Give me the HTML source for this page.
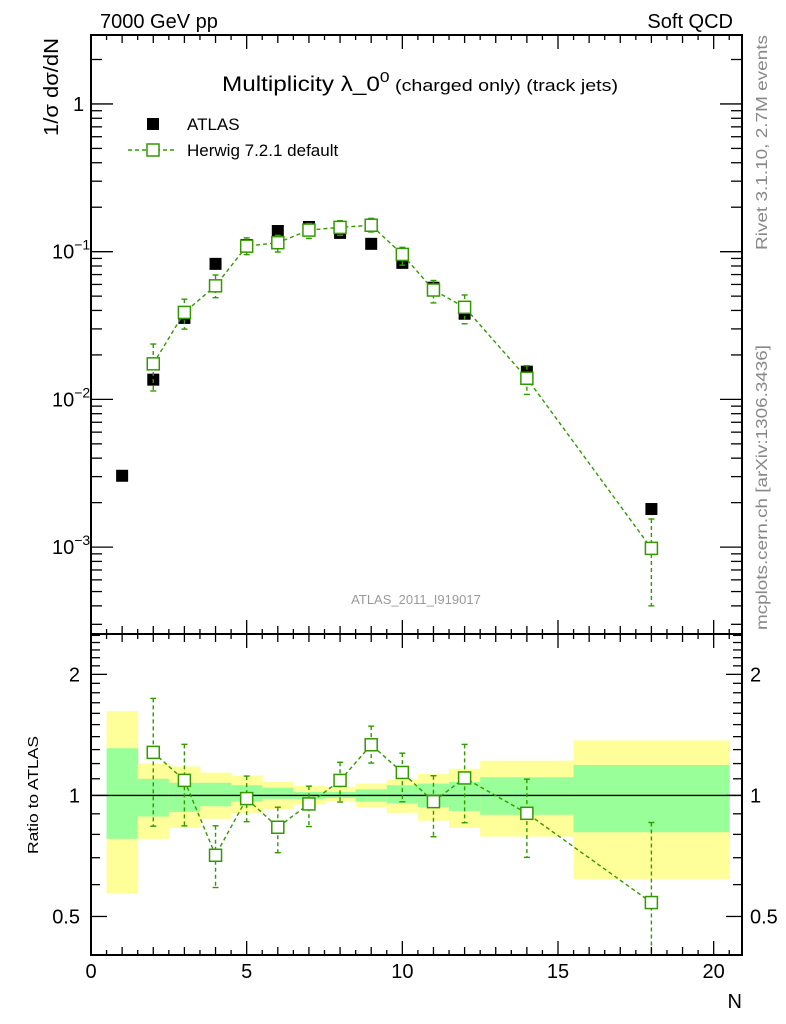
<!DOCTYPE html>
<html><head><meta charset="utf-8"><style>
html,body{margin:0;padding:0;background:#fff;}
svg{display:block;font-family:"Liberation Sans","DejaVu Sans",sans-serif;}
</style></head><body>
<svg id="chart" width="786" height="1024" viewBox="0 0 786 1024" xmlns="http://www.w3.org/2000/svg">
<g id="bands"></g>
<g id="marks"></g>
<g id="axes"></g>
<text x="100" y="28" font-size="20">7000 GeV pp</text>
<text x="733" y="28" font-size="20" text-anchor="end">Soft QCD</text>
<text x="222" y="91" font-size="21" textLength="396" lengthAdjust="spacingAndGlyphs">Multiplicity λ_0<tspan font-size="15" dy="-9">0</tspan><tspan font-size="17" dy="9"> (charged only) (track jets)</tspan></text>
<text transform="translate(58,136) rotate(-90)" font-size="20" textLength="98" lengthAdjust="spacingAndGlyphs">1/σ dσ/dN</text>
<text transform="translate(38,795) rotate(-90)" font-size="15" text-anchor="middle" textLength="118" lengthAdjust="spacingAndGlyphs">Ratio to ATLAS</text>
<text x="742" y="1008" font-size="20" text-anchor="end">N</text>
<text x="416" y="604" font-size="13" fill="#999" text-anchor="middle">ATLAS_2011_I919017</text>
<text transform="translate(767,250) rotate(-90)" font-size="16" fill="#888" textLength="215" lengthAdjust="spacingAndGlyphs">Rivet 3.1.10,  2.7M events</text>
<text transform="translate(767,630) rotate(-90)" font-size="16" fill="#888" textLength="285" lengthAdjust="spacingAndGlyphs">mcplots.cern.ch [arXiv:1306.3436]</text>
<g>
<rect x="147" y="118" width="12" height="12" fill="#000"/>
<text x="187" y="130" font-size="17">ATLAS</text>
<line x1="128" y1="150" x2="177" y2="150" stroke="#339900" stroke-width="1.5" stroke-dasharray="4,3"/>
<rect x="147" y="144" width="12" height="12" fill="#fff" stroke="#339900" stroke-width="1.5"/>
<text x="187" y="156" font-size="17">Herwig 7.2.1 default</text>
</g>
</svg>
<script>
const atlasN=[1,2,3,4,5,6,7,8,9,10,11,12,14,18];
const atlasVal=[0.00304,0.0136,0.0356,0.0827,0.111,0.138,0.147,0.134,0.113,0.084,0.057,0.038,0.0154,0.00181];
const herwigN=[2,3,4,5,6,7,8,9,10,11,12,14,18];
const herwigVal=[0.0174,0.0388,0.0587,0.109,0.115,0.140,0.146,0.151,0.0958,0.055,0.042,0.0139,0.00098];
const herwigUp=[0.0237,0.0477,0.0695,0.124,0.129,0.155,0.162,0.168,0.107,0.0638,0.0509,0.0169,0.00155];
const herwigDn=[0.0114,0.0299,0.0488,0.0955,0.0994,0.123,0.129,0.136,0.081,0.045,0.0325,0.0108,0.0004];
const bandEdges=[0.5,1.5,2.5,3.5,4.5,5.5,6.5,7.5,8.5,9.5,10.5,11.5,12.5,15.5,20.5];
const bandOuterUp=[1.62,1.2,1.18,1.14,1.12,1.08,1.056,1.05,1.07,1.095,1.13,1.165,1.22,1.37];
const bandInnerUp=[1.31,1.1,1.075,1.075,1.06,1.045,1.02,1.02,1.035,1.06,1.07,1.08,1.11,1.19];
const bandInnerDn=[0.78,0.886,0.91,0.94,0.965,0.98,0.98,0.985,0.965,0.955,0.935,0.915,0.895,0.81];
const bandOuterDn=[0.57,0.78,0.83,0.875,0.905,0.925,0.95,0.965,0.935,0.905,0.865,0.83,0.79,0.62];
const xTicks=[0,5,10,15,20];
const mainTicks=[1,0.1,0.01,0.001];
const mainTickLabels=[["1",""],["10","−1"],["10","−2"],["10","−3"]];
const ratioTicks=[2,1,0.5];
const ratioTickLabels=["2","1","0.5"];

const NS="http://www.w3.org/2000/svg";
const L=91,R=742,T=35,M=634,B=955;
const XMIN=0,XMAX=20.91;
const YMAXL=Math.log10(2.93),YMINL=Math.log10(2.58e-4);
const RMAXL=Math.log10(2.52),RMINL=Math.log10(0.401);
const sx=v=>L+(v-XMIN)/(XMAX-XMIN)*(R-L);
const sy=v=>T+(YMAXL-Math.log10(v))/(YMAXL-YMINL)*(M-T);
const sr=v=>M+(RMAXL-Math.log10(v))/(RMAXL-RMINL)*(B-M);
function el(parent,tag,attrs){const e=document.createElementNS(NS,tag);for(const k in attrs)e.setAttribute(k,attrs[k]);parent.appendChild(e);return e;}
const bands=document.getElementById('bands'),marks=document.getElementById('marks'),axes=document.getElementById('axes');

for(let i=0;i<bandOuterUp.length;i++){
  const x0=sx(bandEdges[i]),x1=sx(bandEdges[i+1]);
  const y=el(bands,'rect',{x:x0,y:sr(bandOuterUp[i]),width:x1-x0+0.5,height:sr(bandOuterDn[i])-sr(bandOuterUp[i]),fill:'#ffff99'});
  
  
  const g=el(bands,'rect',{x:x0,y:sr(bandInnerUp[i]),width:x1-x0+0.5,height:sr(bandInnerDn[i])-sr(bandInnerUp[i]),fill:'#99ff99'});
  
  
}
const one=el(marks,'line',{x1:L,x2:R,y1:sr(1),y2:sr(1),stroke:'#000','stroke-width':1.3});



atlasN.forEach((n,i)=>{
  const r=el(marks,'rect',{x:sx(n)-6,y:sy(atlasVal[i])-6,width:12,height:12,fill:'#000'});
  
  
});
const green='#339900';
function series(fy,vals,ups,dns,clipTop,clipBot,name){
  let d='';
  herwigN.forEach((n,i)=>{d+=(i?'L':'M')+sx(n)+','+fy(vals[i],i);});
  const p=el(marks,'path',{d:d,fill:'none',stroke:green,'stroke-width':1.4,'stroke-dasharray':'4,3'});
  
  
  herwigN.forEach((n,i)=>{
    const x=sx(n);
    let yu=Math.max(clipTop,fy(ups[i],i)),yd=Math.min(clipBot,fy(dns[i],i));
    const e=el(marks,'line',{x1:x,x2:x,y1:yu,y2:yd,stroke:green,'stroke-width':1.4,'stroke-dasharray':'4,3'});
    
    
    [yu,yd].forEach(yy=>{if(yy>clipTop&&yy<clipBot){const c=el(marks,'line',{x1:x-3,x2:x+3,y1:yy,y2:yy,stroke:green,'stroke-width':1.4});
      
      }});
    const s=el(marks,'rect',{x:x-6,y:fy(vals[i],i)-6,width:12,height:12,fill:'#fff',stroke:green,'stroke-width':1.5});
    
    
  });
}
series((v)=>sy(v),herwigVal,herwigUp,herwigDn,T,M,'herwig');
const aOf=i=>atlasVal[atlasN.indexOf(herwigN[i])];
series((v,i)=>sr(v/aOf(i)),herwigVal,herwigUp,herwigDn,M,B,'herwig-ratio');

[[T,M,'main-frame'],[M,B,'ratio-frame']].forEach(([a,b,n])=>{
  const f=el(axes,'rect',{x:L,y:a,width:R-L,height:b-a,fill:'none',stroke:'#000','stroke-width':2});
  
  
});
for(let v=0;v<=20.5;v+=0.5){
  const x=sx(v),len=(v%5===0)?14:(Number.isInteger(v)?8:5);
  [[T,1],[M,1],[M,-1],[B,-1]].forEach(([y0,dir])=>{
    const t=el(axes,'line',{x1:x,x2:x,y1:y0,y2:y0+dir*len,stroke:'#000','stroke-width':1.3});
    
    
  });
}
xTicks.forEach(v=>{
  const t=el(axes,'text',{x:sx(v),y:978,'font-size':20,'text-anchor':'middle'});
  t.textContent=v;
  
  
});
for(let e=-4;e<=0;e++){for(let m=1;m<10;m++){
  const v=m*Math.pow(10,e);const y=sy(v);if(y<T||y>M)continue;
  const len=m===1?22:11;
  [[L,1],[R,-1]].forEach(([x0,dir])=>{
    const t=el(axes,'line',{x1:x0,x2:x0+dir*len,y1:y,y2:y,stroke:'#000','stroke-width':1.3});
    
    
  });
}}
mainTicks.forEach((v,i)=>{
  const lab=mainTickLabels[i];
  const t=el(axes,'text',{x:lab[1]?52:73,y:sy(v)+7,'font-size':20});
  t.textContent=lab[0];
  if(lab[1]){const s=el(t,'tspan',{dy:-9,'font-size':14});s.textContent=lab[1];}
  
  
});
[0.5,0.6,0.7,0.8,0.9,1,1.1,1.2,1.3,1.4,1.5,1.6,1.7,1.8,1.9,2,2.1,2.2,2.3,2.4,2.5].forEach(v=>{
  const y=sr(v);if(y<M||y>B)return;
  const len=(v===1||v===2||v===0.5)?16:9;
  [[L,1],[R,-1]].forEach(([x0,dir])=>{
    const t=el(axes,'line',{x1:x0,x2:x0+dir*len,y1:y,y2:y,stroke:'#000','stroke-width':1.3});
    
    
  });
});
ratioTicks.forEach((v,i)=>{
  [[80,'end'],[750,'start']].forEach(([x,a])=>{
    const t=el(axes,'text',{x:x,y:sr(v)+7,'font-size':20,'text-anchor':a});
    t.textContent=ratioTickLabels[i];
    
    
  });
});
</script>
</body></html>
